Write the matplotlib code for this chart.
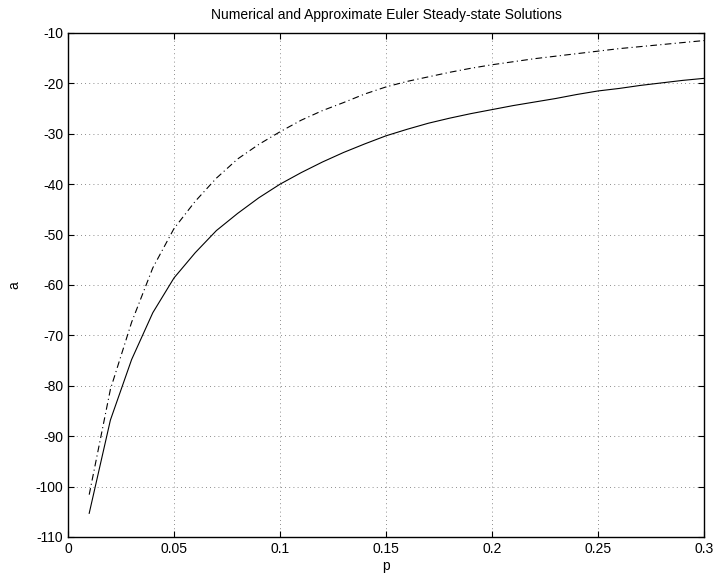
import matplotlib
matplotlib.use("Agg")
import matplotlib.pyplot as plt

plt.rcParams['font.family'] = ['Liberation Sans', 'DejaVu Sans']
plt.rcParams['axes.unicode_minus'] = False

p = [0.01, 0.02, 0.03, 0.04, 0.05, 0.06, 0.07, 0.08, 0.09, 0.10,
     0.11, 0.12, 0.13, 0.14, 0.15, 0.16, 0.17, 0.18, 0.19, 0.20,
     0.21, 0.22, 0.23, 0.24, 0.25, 0.26, 0.27, 0.28, 0.29, 0.30]
numerical = [-105.3, -86.8, -74.8, -65.5, -58.6, -53.6, -49.2, -45.8, -42.7, -40.0,
             -37.7, -35.6, -33.7, -32.0, -30.4, -29.1, -27.9, -26.9, -26.0, -25.2,
             -24.4, -23.7, -23.0, -22.2, -21.5, -21.0, -20.4, -19.9, -19.4, -19.0]
approximate = [-101.6, -80.7, -67.4, -56.6, -48.8, -43.4, -38.8, -35.0, -32.1, -29.6,
               -27.3, -25.4, -23.8, -22.1, -20.7, -19.6, -18.7, -17.8, -17.0, -16.3,
               -15.7, -15.1, -14.6, -14.1, -13.6, -13.1, -12.7, -12.3, -11.9, -11.5]

xticks = [0, 0.05, 0.1, 0.15, 0.2, 0.25, 0.3]
xticklabels = ['0', '0.05', '0.1', '0.15', '0.2', '0.25', '0.3']
yticks = [-110, -100, -90, -80, -70, -60, -50, -40, -30, -20, -10]

fig = plt.figure(figsize=(7.15, 5.78), dpi=100)
ax = fig.add_axes([68/715, 1 - 537/578, (704-68)/715, (537-33)/578])

ax.plot(p, numerical, color='black', linewidth=0.8, linestyle='-')
ax.plot(p, approximate, color='black', linewidth=0.8, linestyle=(0, (6, 3, 1, 3)))

ax.set_xlim(0, 0.3)
ax.set_ylim(-110, -10)
ax.set_xticks(xticks)
ax.set_xticklabels(xticklabels)
ax.set_yticks(yticks)
ax.tick_params(direction='in', top=True, right=True, labelsize=10, length=4, width=0.8)
ax.grid(True, color='black', linestyle=(0, (1, 4)), linewidth=0.6, alpha=0.6)
for s in ax.spines.values():
    s.set_linewidth(1.0)

ax.set_title('Numerical and Approximate Euler Steady-state Solutions', fontsize=10, pad=10)
ax.set_xlabel('p', fontsize=10, labelpad=2)
ax.set_ylabel('a', fontsize=10, labelpad=10)

fig.savefig('out.png', dpi=100)
